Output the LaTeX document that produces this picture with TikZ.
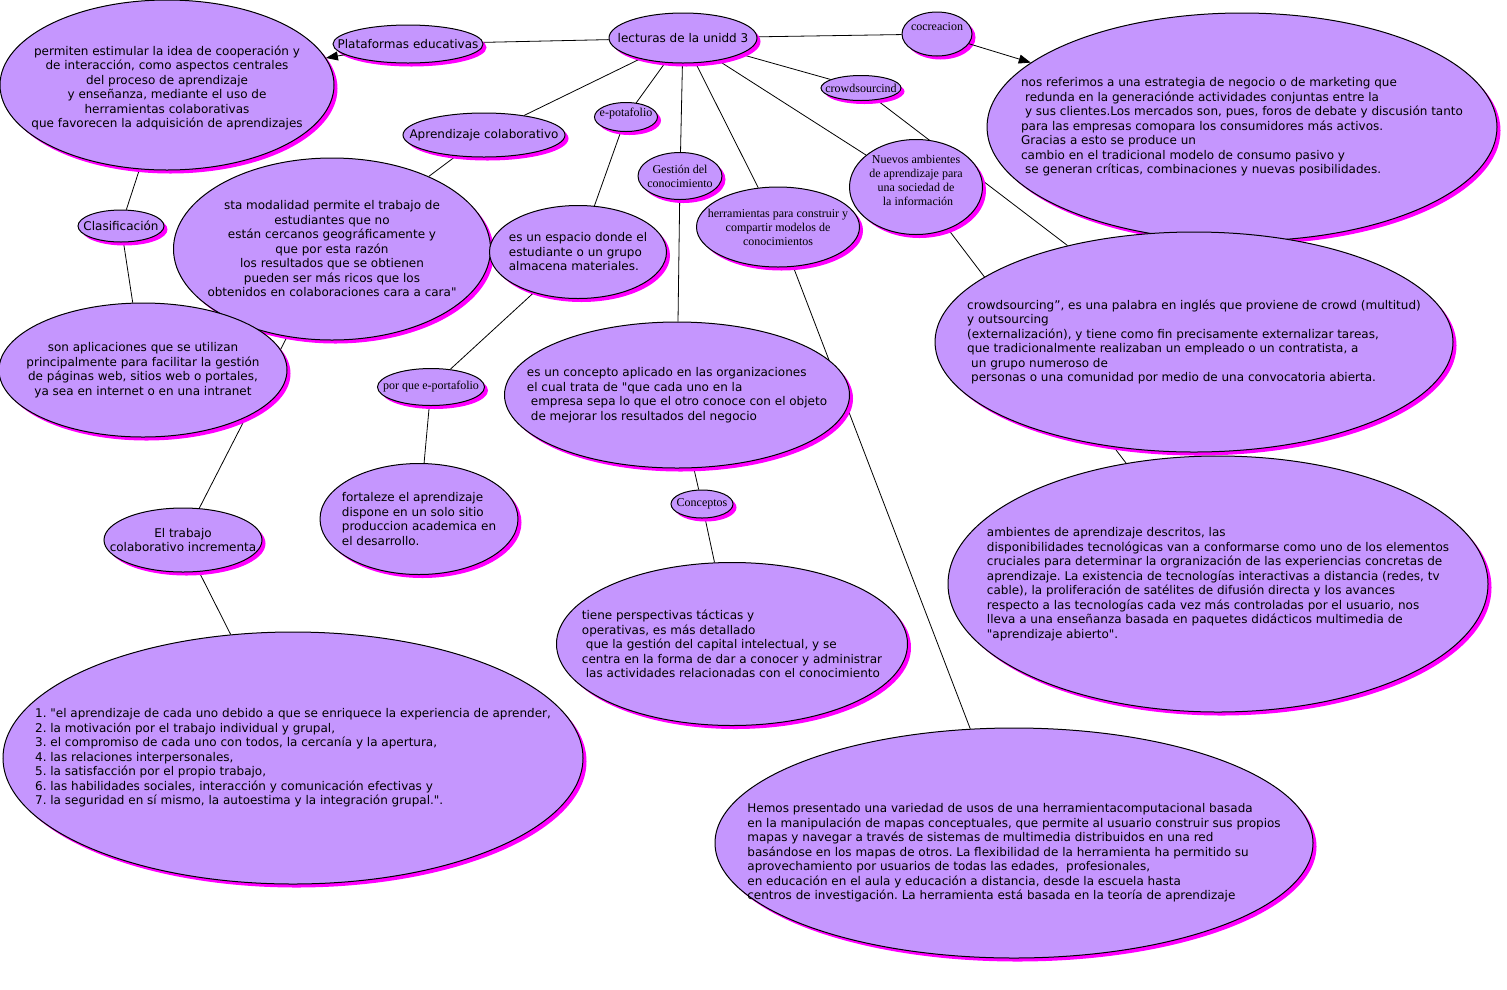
\documentclass[tikz,border=0pt]{standalone}
\usepackage{fontspec}
\usetikzlibrary{arrows.meta,shapes.geometric,shadows,backgrounds}
\newfontfamily\verd{DejaVu Sans}
\newfontfamily\tms{Liberation Serif}
\definecolor{bubfill}{RGB}{197,150,254}
\definecolor{bubshade}{RGB}{255,0,255}
\newcommand\ind{\hspace*{4pt}}
\frenchspacing

\begin{document}
\begin{tikzpicture}[x=1pt, y=-1pt,
  bub/.style={ellipse, draw=black, line width=1pt, fill=bubfill, inner sep=0pt,
    drop shadow={shadow xshift=3.5pt, shadow yshift=-3.5pt, fill=bubshade, opacity=1}},
  sz/.style 2 args={minimum width=#1pt, minimum height=#2pt},
  vtxt/.style={font=\verd\fontsize{12}{14.5}\selectfont, align=center, inner sep=0pt},
  vleft/.style={vtxt, align=left},
  ttxt/.style={font=\tms\fontsize{12}{14}\selectfont, align=center, inner sep=0pt},
  link/.style={draw=black, line width=0.8pt},
  arr/.style={link, -{Triangle[length=12pt,width=9pt]}}]
\useasboundingbox (0,0) rectangle (1507,989);

\node[bub, sz={334}{170}, label={[vtxt,yshift=-3pt]center:{permiten estimular la idea de cooperación y\\de interacción, como aspectos centrales\\del proceso de aprendizaje\\y enseñanza, mediante el uso de\\herramientas colaborativas\\que favorecen la adquisición de aprendizajes}}] (perm) at (167,85) {};
\node[bub, sz={150}{38}, label={[vtxt]center:{Plataformas educativas}}] (plat) at (408,44) {};
\node[bub, sz={148}{50}, label={[vtxt]center:{lecturas de la unidd 3}}] (lect) at (683,38) {};
\node[bub, sz={70}{44}, label={[ttxt,yshift=7pt]center:{cocreacion}}] (cocre) at (937,34) {};
\node[bub, sz={510}{228}, label={[vleft]center:{nos referimos a una estrategia de negocio o de marketing que\\\ind redunda en la generaciónde actividades conjuntas entre la\\\ind y sus clientes.Los mercados son, pues, foros de debate y discusión tanto\\para las empresas comopara los consumidores más activos.\\Gracias a esto se produce un\\cambio en el tradicional modelo de consumo pasivo y\\\ind se generan críticas, combinaciones y nuevas posibilidades.}}] (nosref) at (1242,127) {};
\node[bub, sz={80}{25}, label={[ttxt]center:{crowdsourcind}}] (crowd) at (861,88) {};
\node[bub, sz={162}{44}, label={[vtxt]center:{Aprendizaje colaborativo}}] (aprcol) at (484,135) {};
\node[bub, sz={63}{29}, label={[ttxt,yshift=3pt]center:{e-potafolio}}] (epot) at (626,117) {};
\node[bub, sz={84}{47}, label={[ttxt]center:{Gestión del\\conocimiento}}] (gest) at (680,176) {};
\node[bub, sz={163}{80}, label={[ttxt]center:{herramientas para construir y\\compartir modelos de\\conocimientos}}] (herr) at (778,227) {};
\node[bub, sz={133}{95}, label={[ttxt,yshift=7pt]center:{Nuevos ambientes\\de aprendizaje para\\una sociedad de\\\ind la información}}] (nuevos) at (916,187) {};
\node[bub, sz={86}{32}, label={[vtxt]center:{Clasificación}}] (clasif) at (121,226) {};
\node[bub, sz={317}{182}, label={[vtxt]center:{sta modalidad permite el trabajo de\\estudiantes que no\\están cercanos geográficamente y\\que por esta razón\\los resultados que se obtienen\\pueden ser más ricos que los\\obtenidos en colaboraciones cara a cara"}}] (sta) at (332,249) {};
\node[bub, sz={177}{93}, label={[vleft]center:{es un espacio donde el\\estudiante o un grupo\\almacena materiales.}}] (espacio) at (578,252) {};
\node[bub, sz={518}{220}, label={[vleft]center:{crowdsourcing”, es una palabra en inglés que proviene de crowd (multitud)\\y outsourcing\\(externalización), y tiene como fin precisamente externalizar tareas,\\que tradicionalmente realizaban un empleado o un contratista, a\\\ind un grupo numeroso de\\\ind personas o una comunidad por medio de una convocatoria abierta.}}] (crowdsrc) at (1194,342) {};
\node[bub, sz={288}{134}, label={[vtxt]center:{son aplicaciones que se utilizan\\principalmente para facilitar la gestión\\de páginas web, sitios web o portales,\\ya sea en internet o en una intranet}}] (son) at (143,370) {};
\node[bub, sz={107}{37}, label={[ttxt]center:{por que e-portafolio}}] (porque) at (431,387) {};
\node[bub, sz={345}{146}, label={[vleft]center:{es un concepto aplicado en las organizaciones\\el cual trata de "que cada uno en la\\\ind empresa sepa lo que el otro conoce con el objeto\\\ind de mejorar los resultados del negocio}}] (concepto) at (677,395) {};
\node[bub, sz={540}{256}, label={[vleft]center:{ambientes de aprendizaje descritos, las\\disponibilidades tecnológicas van a conformarse como uno de los elementos\\cruciales para determinar la orgranización de las experiencias concretas de\\aprendizaje. La existencia de tecnologías interactivas a distancia (redes, tv\\cable), la proliferación de satélites de difusión directa y los avances\\respecto a las tecnologías cada vez más controladas por el usuario, nos\\lleva a una enseñanza basada en paquetes didácticos multimedia de\\"aprendizaje abierto".}}] (ambientes) at (1218,584) {};
\node[bub, sz={198}{111}, label={[vleft]center:{fortaleze el aprendizaje\\dispone en un solo sitio\\produccion academica en\\el desarrollo.}}] (fortal) at (419,519) {};
\node[bub, sz={62}{28}, label={[ttxt]center:{Conceptos}}] (concep) at (702,504) {};
\node[bub, sz={158}{64}, label={[vtxt]center:{El trabajo\\colaborativo incrementa}}] (trabajo) at (183,540) {};
\node[bub, sz={351}{163}, label={[vleft]center:{tiene perspectivas tácticas y\\operativas, es más detallado\\\ind que la gestión del capital intelectual, y se\\centra en la forma de dar a conocer y administrar\\\ind las actividades relacionadas con el conocimiento}}] (tiene) at (732,644) {};
\node[bub, sz={580}{252}, label={[vleft]center:{1. "el aprendizaje de cada uno debido a que se enriquece la experiencia de aprender,\\2. la motivación por el trabajo individual y grupal,\\3. el compromiso de cada uno con todos, la cercanía y la apertura,\\4. las relaciones interpersonales,\\5. la satisfacción por el propio trabajo,\\6. las habilidades sociales, interacción y comunicación efectivas y\\7. la seguridad en sí mismo, la autoestima y la integración grupal.".}}] (lista) at (293,758) {};
\node[bub, sz={598}{230}, label={[vleft,yshift=-10pt]center:{Hemos presentado una variedad de usos de una herramientacomputacional basada\\en la manipulación de mapas conceptuales, que permite al usuario construir sus propios\\mapas y navegar a través de sistemas de multimedia distribuidos en una red\\basándose en los mapas de otros. La flexibilidad de la herramienta ha permitido su\\aprovechamiento por usuarios de todas las edades,\ \ profesionales,\\en educación en el aula y educación a distancia, desde la escuela hasta\\centros de investigación. La herramienta está basada en la teoría de aprendizaje}}] (hemos) at (1014,843) {};

\begin{pgfonlayer}{background}
\foreach \a/\b in {lect/plat, lect/cocre, lect/crowd, crowd/crowdsrc, lect/nuevos, nuevos/ambientes,
    lect/herr, herr/hemos, lect/gest, gest/concepto, concepto/concep, concep/tiene,
    lect/epot, epot/espacio, espacio/porque, porque/fortal, lect/aprcol, aprcol/sta,
    perm/clasif, clasif/son, sta/trabajo, trabajo/lista}
  \draw[link] (\a) -- (\b);
\end{pgfonlayer}
\draw[arr] (plat) -- (perm);
\draw[arr] (cocre) -- (nosref);
\end{tikzpicture}
\end{document}
